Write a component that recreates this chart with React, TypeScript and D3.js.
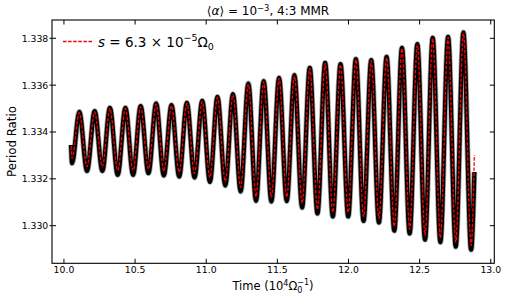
import React from "react";
import * as d3 from "d3";

const xTicks = [10.0, 10.5, 11.0, 11.5, 12.0, 12.5, 13.0];
const yTicks = [1.330, 1.332, 1.334, 1.336, 1.338];

const times = [10.050, 10.057, 10.108, 10.162, 10.216, 10.270, 10.323, 10.378, 10.432, 10.486, 10.539, 10.594, 10.648, 10.702, 10.756, 10.810, 10.864, 10.918, 10.972, 11.026, 11.079, 11.134, 11.188, 11.242, 11.296, 11.350, 11.404, 11.458, 11.512, 11.566, 11.620, 11.674, 11.728, 11.782, 11.836, 11.890, 11.944, 11.998, 12.052, 12.106, 12.160, 12.214, 12.268, 12.322, 12.376, 12.430, 12.484, 12.538, 12.592, 12.646, 12.700, 12.754, 12.808, 12.862, 12.885];

const fullRatio = [1.333445, 1.332668,
  1.334862, 1.332339, 1.334892, 1.332339, 1.335033, 1.332169, 1.335033, 1.332169,
  1.335106, 1.332241, 1.335217, 1.332143, 1.335148, 1.332100, 1.335246, 1.332058,
  1.335332, 1.331870, 1.335503, 1.331716, 1.335618, 1.331460, 1.336070, 1.331059,
  1.336173, 1.331033, 1.336314, 1.331046, 1.336429, 1.330777, 1.336741, 1.330521,
  1.336954, 1.330393, 1.336899, 1.330393, 1.337112, 1.330205, 1.337069, 1.330137,
  1.337210, 1.329787, 1.337594, 1.329667, 1.337752, 1.329402, 1.338021, 1.329296,
  1.338064, 1.329103, 1.338248, 1.328975, 1.332292];

const modelRatio = [1.333402, 1.332890,
  1.334832, 1.332519, 1.334862, 1.332519, 1.335003, 1.332348, 1.335003, 1.332348,
  1.335076, 1.332420, 1.335187, 1.332322, 1.335118, 1.332280, 1.335217, 1.332237,
  1.335302, 1.332049, 1.335473, 1.331895, 1.335588, 1.331639, 1.336040, 1.331238,
  1.336143, 1.331212, 1.336284, 1.331225, 1.336399, 1.330956, 1.336711, 1.330700,
  1.336924, 1.330572, 1.336869, 1.330572, 1.337082, 1.330384, 1.337039, 1.330316,
  1.337180, 1.329966, 1.337565, 1.329846, 1.337723, 1.329581, 1.337991, 1.329475,
  1.338034, 1.329283, 1.338218, 1.329155, 1.333018];

const FONT = "DejaVu Sans, sans-serif";

export default function App() {
  const L = 52, R = 494.3, T = 20, B = 263.3;
  const x = d3.scaleLinear().domain([9.916, 13.025]).range([L, R]);
  const y = d3.scaleLinear().domain([1.328395, 1.338781]).range([B, T]);

  const line = d3
    .line<number>()
    .x((_, i) => x(times[i]))
    .y((d) => y(d))
    .curve(d3.curveMonotoneX);

  const fullPath = line(fullRatio) || "";
  const modelPath = line(modelRatio) || "";

  return (
    <svg width={508} height={299} style={{ position: "absolute", left: 0, top: 0, background: "#fff" }} fontFamily={FONT}>
      <rect x={0} y={0} width={508} height={299} fill="#fff" />
      <defs>
        <clipPath id="plotclip">
          <rect x={L} y={T} width={R - L} height={B - T} />
        </clipPath>
      </defs>
      <g clipPath="url(#plotclip)">
        <path d={fullPath} fill="none" stroke="#000" strokeOpacity={0.35} strokeWidth={5.8} strokeLinejoin="round" />
        <path d={fullPath} fill="none" stroke="#000" strokeWidth={4.2} strokeLinejoin="round" />
        <path d={modelPath} fill="none" stroke="#ff0000" strokeWidth={1.3} strokeDasharray="3.5,1.6" />
      </g>

      {/* frame */}
      <rect x={L} y={T} width={R - L} height={B - T} fill="none" stroke="#000" strokeWidth={1.1} />

      {/* x ticks */}
      {xTicks.map((t) => (
        <g key={"x" + t}>
          <line x1={x(t)} x2={x(t)} y1={B} y2={B - 4.5} stroke="#000" strokeWidth={1} />
          <line x1={x(t)} x2={x(t)} y1={T} y2={T + 4.5} stroke="#000" strokeWidth={1} />
          <text x={x(t)} y={273.3} fontSize={9.3} textAnchor="middle" fill="#000">
            {t.toFixed(1)}
          </text>
        </g>
      ))}

      {/* y ticks */}
      {yTicks.map((v) => (
        <g key={"y" + v}>
          <line x1={L - 2.5} x2={L + 4} y1={y(v)} y2={y(v)} stroke="#000" strokeWidth={1} />
          <line x1={R} x2={R - 4.5} y1={y(v)} y2={y(v)} stroke="#000" strokeWidth={1} />
          <text x={48.3} y={y(v) + 3.4} fontSize={9.3} textAnchor="end" fill="#000">
            {v.toFixed(3)}
          </text>
        </g>
      ))}

      {/* title */}
      <text x={268} y={15} fontSize={12} textAnchor="middle" fill="#000">
        ⟨<tspan fontStyle="italic">α</tspan>⟩ = 10<tspan dy={-4.5} fontSize={8.4}>−3</tspan>
        <tspan dy={4.5}>, 4:3 MMR</tspan>
      </text>

      {/* axis labels */}
      <text x={273} y={290} fontSize={11.5} textAnchor="middle" fill="#000">
        Time (10<tspan dy={-4.5} fontSize={8}>4</tspan>
        <tspan dy={4.5}>Ω</tspan>
        <tspan dy={2.5} fontSize={8}>0</tspan>
        <tspan dx={-5} dy={-7.5} fontSize={8}>−1</tspan>
        <tspan dy={5}>)</tspan>
      </text>
      <text transform={`translate(15.5,141.5) rotate(-90)`} fontSize={11.8} textAnchor="middle" fill="#000">
        Period Ratio
      </text>

      {/* legend */}
      <line x1={63} x2={93} y1={41.5} y2={41.5} stroke="#ff0000" strokeWidth={1.3} strokeDasharray="3.5,1.6" />
      <text x={98} y={46.7} fontSize={13.5} fill="#000">
        <tspan fontStyle="italic">s</tspan> = 6.3 × 10<tspan dy={-5.5} fontSize={9.5}>−5</tspan>
        <tspan dy={5.5}>Ω</tspan>
        <tspan dy={2.8} fontSize={9.5}>0</tspan>
      </text>
    </svg>
  );
}
